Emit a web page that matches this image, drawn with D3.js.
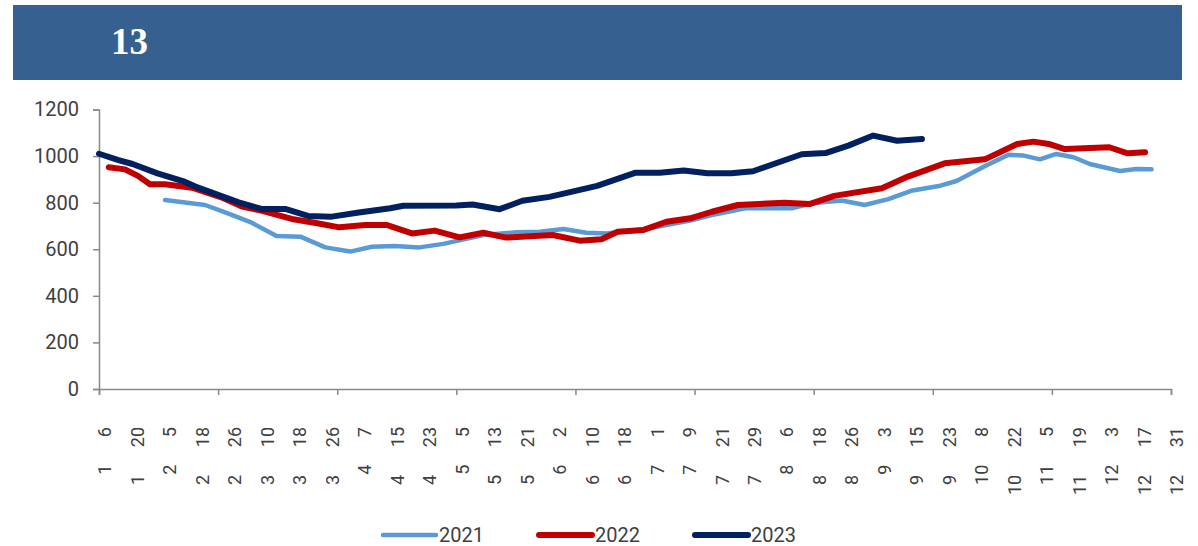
<!DOCTYPE html>
<meta charset="utf-8">
<script src="https://d3js.org/d3.v7.min.js"></script>
<style>
  body { margin: 0; background: #fff; }
  svg text { font-family: Roboto, "Open Sans", sans-serif; }
</style>
<svg width=1198 height=546 id='chart'></svg>
<script>

// tick labels (month / day), one every 3 categories
var tickMonths = [1,1,2,2,2,3,3,3,4,4,4,5,5,5,6,6,6,7,7,7,7,8,8,8,9,9,9,10,10,11,11,12,12,12];
var tickDays = [6,20,5,18,26,10,18,26,7,15,23,5,13,21,2,10,18,1,9,21,29,6,18,26,3,15,23,8,22,5,19,3,17,31];

// series: [category position, value]
var s2021 = [[6.1,811],[9.8,790],[11.9,754],[14.1,714],[16.4,657],[18.6,654],[20.9,608],[23.2,590],
  [25.2,611],[27.3,614],[29.6,608],[31.8,623],[35.5,661],[38.6,673],[40.7,675],[42.9,687],[45,671],
  [46.9,668],[50.3,686],[54.6,723],[56.6,747],[59.7,776],[64,776],[65.8,797],[68.6,809],[70.7,790],
  [72.9,815],[75,851],[77.7,873],[79.2,893],[81.7,954],[84,1006],[85.4,1002],[86.9,986],[88.4,1009],
  [90,995],[91.5,966],[94.3,936],[95.8,945],[97.2,943]];

var s2022 = [[0.9,952],[2.4,943],[3.6,915],[4.7,879],[6.1,879],[8.6,864],[11.3,823],[13.2,783],[15,766],
  [17.8,730],[19.9,714],[22.2,694],[24.6,704],[26.6,704],[27.1,696],[28.9,668],[31,680],[33.3,651],
  [35.5,671],[37.6,650],[41.9,661],[44.4,637],[46.4,643],[47.9,675],[50.3,683],[52.4,718],[54.6,733],
  [56.6,761],[59,790],[63.3,800],[65.6,794],[67.9,829],[72.3,862],[74.7,912],[78.1,969],[81.8,986],
  [84.8,1052],[86.3,1062],[87.7,1052],[89.2,1030],[93.3,1038],[95,1012],[96.6,1016]];

var s2023 = [[0,1010],[1.8,983],[3.1,966],[5.4,926],[7.9,890],[8.9,869],[12.9,801],[15,773],[17.2,773],
  [19.3,743],[21.5,740],[24,758],[26.9,776],[28.1,787],[33,788],[34.5,792],[37,772],[39.1,808],
  [41.6,825],[46,872],[49.5,928],[51.8,928],[54,938],[56.2,926],[58.4,926],[60.4,935],[64.9,1008],
  [67.1,1013],[69.2,1045],[71.5,1088],[73.7,1066],[76,1073]];

var yTicks = [0,200,400,600,800,1000,1200];
var seriesNames = ['2021','2022','2023'];
var seriesColors = ['#5B9BD5','#C00000','#002060'];
var seriesWidths = [4.5,6,6];

var svg = d3.select('#chart');

// title banner
svg.append('rect')
  .attr('x', 13).attr('y', 5)
  .attr('width', 1169).attr('height', 75)
  .attr('fill', '#36608F');
svg.append('text')
  .attr('x', 111).attr('y', 54)
  .text('13')
  .style('font-family', '"Liberation Serif", serif')
  .style('font-weight', 'bold')
  .style('font-size', '37px')
  .style('fill', '#fff');

var x = d3.scaleLinear().domain([0, 99]).range([99, 1171]);
var y = d3.scaleLinear().domain([0, 1200]).range([389, 109.5]);

// y axis
var yAxis = svg.append('g')
  .attr('transform', 'translate(99,0)')
  .call(d3.axisLeft(y).tickValues(yTicks).tickSize(6).tickPadding(14).tickFormat(d3.format('d')));
yAxis.select('.domain').attr('stroke', '#898989').attr('stroke-width', 1.5);
yAxis.selectAll('.tick line').attr('stroke', '#898989').attr('stroke-width', 1.5);
yAxis.selectAll('.tick text')
  .style('font-size', '20px').style('font-weight', 400).style('fill', '#404040');

// x axis (tick marks every 11 categories)
var xAxis = svg.append('g')
  .attr('transform', 'translate(0,389)')
  .call(d3.axisBottom(x).tickValues(d3.range(0, 100, 11)).tickSize(6).tickFormat(''));
xAxis.select('.domain').attr('stroke', '#898989').attr('stroke-width', 1.5);
xAxis.selectAll('.tick line').attr('stroke', '#898989').attr('stroke-width', 1.5);

// x labels, rotated
svg.append('g').selectAll('text')
  .data(tickMonths)
  .enter().append('text')
  .attr('transform', function(d, i) {
    return 'translate(' + (x(i * 3) + 6) + ',427) rotate(-90)';
  })
  .attr('text-anchor', 'end')
  .attr('dy', '0.35em')
  .text(function(d, i) { return d + '\u2003\u2002' + tickDays[i]; })
  .style('font-size', '18px').style('font-weight', 400).style('fill', '#404040');

// lines
var line = d3.line()
  .x(function(d) { return x(d[0]); })
  .y(function(d) { return y(d[1]); });

var allSeries = [s2021, s2022, s2023];
svg.append('g').selectAll('path')
  .data(allSeries)
  .enter().append('path')
  .attr('d', line)
  .attr('fill', 'none')
  .attr('stroke', function(d, i) { return seriesColors[i]; })
  .attr('stroke-width', function(d, i) { return seriesWidths[i]; })
  .attr('stroke-linejoin', 'round')
  .attr('stroke-linecap', 'round');

// legend
var legendX = [383, 539, 695];
var legend = svg.append('g').selectAll('g')
  .data(seriesNames)
  .enter().append('g')
  .attr('transform', function(d, i) { return 'translate(' + legendX[i] + ',535)'; });
legend.append('line')
  .attr('x1', 0).attr('x2', 53)
  .attr('stroke', function(d, i) { return seriesColors[i]; })
  .attr('stroke-width', function(d, i) { return seriesWidths[i]; })
  .attr('stroke-linecap', 'round');
legend.append('text')
  .attr('x', 56).attr('dy', '0.35em')
  .text(function(d) { return d; })
  .style('font-size', '20px').style('font-weight', 400).style('fill', '#404040');

</script>
